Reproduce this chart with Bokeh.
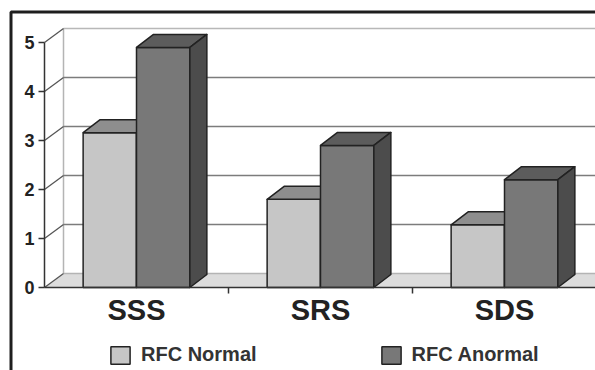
from bokeh.plotting import figure
from bokeh.models import Range1d, FixedTicker, BoxAnnotation, Legend, LegendItem
from bokeh.embed import file_html
from bokeh.resources import INLINE

# ---- data ----
categories = ["SSS", "SRS", "SDS"]
series_names = ["RFC Normal", "RFC Anormal"]
rfc_normal = [3.16, 1.8, 1.28]
rfc_anormal = [4.9, 2.9, 2.2]
y_ticks = [0, 1, 2, 3, 4, 5]

# ---- style / geometry (pixels) ----
W, H = 595, 370
ORIGIN_X, ORIGIN_Y = 44, 287           # pixel position of (0, 0)
PX_CAT, PX_UNIT = 184.0, 49.0
X0, X1 = -ORIGIN_X / PX_CAT, (W - ORIGIN_X) / PX_CAT
Y0, Y1 = -(H - ORIGIN_Y) / PX_UNIT, ORIGIN_Y / PX_UNIT
DX, DY = 19 / PX_CAT, 14 / PX_UNIT          # wall depth
BDX, BDY = 17 / PX_CAT, 13 / PX_UNIT        # bar depth
BAR_W = 0.29
YMAX = y_ticks[-1]
FONT = "Liberation Sans"
OUT = "#222222"

p = figure(width=W, height=H, x_range=Range1d(X0, X1), y_range=Range1d(Y0, Y1),
           output_backend="svg", toolbar_location=None,
           min_border_left=0, min_border_right=0, min_border_top=0, min_border_bottom=0)
p.grid.visible = False
p.outline_line_color = None
p.background_fill_color = "white"
p.border_fill_color = "white"

# side wall + floor
p.patch([0, 0, DX, DX], [0, YMAX, YMAX + DY, DY], fill_color="white", line_color=None)
p.patch([0, X1 + 1, X1 + 1 + DX, DX], [0, 0, DY, DY], fill_color="#dcdcdc", line_color=None)
p.segment(x0=[DX], y0=[DY], x1=[X1 + 1], y1=[DY], line_color="#b4b4b4", line_width=1.5)
p.segment(x0=[DX], y0=[DY], x1=[DX], y1=[YMAX + DY], line_color="#b4b4b4", line_width=1.5)
# gridlines on back wall
inner = [t for t in y_ticks if 0 < t < YMAX]
p.segment(x0=[DX] * len(inner), y0=[t + DY for t in inner], x1=[X1 + 1] * len(inner),
          y1=[t + DY for t in inner], line_color="#7c7c7c", line_width=1.5)
p.segment(x0=[DX], y0=[YMAX + DY], x1=[X1 + 1], y1=[YMAX + DY], line_color="#b8b8b8", line_width=1.5)
# diagonals on side wall
p.segment(x0=[0] * len(y_ticks), y0=y_ticks, x1=[DX] * len(y_ticks), y1=[t + DY for t in y_ticks],
          line_color="#555555", line_width=1.3)

def draw_series(values, offset, front, top, side):
    lefts = [i + 0.5 + offset for i in range(len(values))]
    rights = [l + BAR_W for l in lefts]
    r = p.quad(left=lefts, right=rights, bottom=0, top=values, fill_color=front,
               line_color=OUT, line_width=1.5)
    p.patches(xs=[[l, rr, rr + BDX, l + BDX] for l, rr in zip(lefts, rights)],
              ys=[[v, v, v + BDY, v + BDY] for v in values],
              fill_color=top, line_color=OUT, line_width=1.5, line_join="round")
    p.patches(xs=[[rr, rr + BDX, rr + BDX, rr] for rr in rights],
              ys=[[0, BDY, v + BDY, v] for v in values],
              fill_color=side, line_color=OUT, line_width=1.5, line_join="round")
    return r

r_norm = draw_series(rfc_normal, -BAR_W, "#c6c6c6", "#8e8e8e", "#8a8a8a")
r_anor = draw_series(rfc_anormal, 0.0, "#787878", "#5c5c5c", "#4c4c4c")

# axes (fixed at the data origin)
xa = p.xaxis[0]
xa.fixed_location = 0
xa.bounds = (0, X1)
xa.ticker = FixedTicker(ticks=[i + 0.5 for i in range(len(categories))],
                        minor_ticks=[i for i in range(1, len(categories))])
xa.major_label_overrides = {i + 0.5: c for i, c in enumerate(categories)}
xa.major_tick_line_color = None
xa.major_tick_in = 0
xa.major_tick_out = 6
xa.minor_tick_in = 0
xa.minor_tick_out = 6
xa.minor_tick_line_color = "#333333"
xa.minor_tick_line_width = 1.5
xa.axis_line_color = "#333333"
xa.axis_line_width = 1.5
xa.major_label_text_font = FONT
xa.major_label_text_font_style = "bold"
xa.major_label_text_font_size = "29px"
xa.major_label_text_color = OUT
xa.major_label_standoff = 0

ya = p.yaxis[0]
ya.fixed_location = 0
ya.ticker = FixedTicker(ticks=y_ticks)
ya.bounds = (0, YMAX)
ya.major_tick_in = 0
ya.major_tick_out = 6
ya.major_tick_line_color = "#333333"
ya.major_tick_line_width = 1.5
ya.minor_tick_line_color = None
ya.axis_line_color = "#333333"
ya.axis_line_width = 1.5
ya.major_label_text_font = FONT
ya.major_label_text_font_style = "bold"
ya.major_label_text_font_size = "18px"
ya.major_label_text_color = OUT
ya.major_label_standoff = 4

legend = Legend(items=[LegendItem(label=series_names[0], renderers=[r_norm]),
                       LegendItem(label=series_names[1], renderers=[r_anor])],
                orientation="horizontal", location=(108, 4), spacing=122,
                label_standoff=9, glyph_width=24, glyph_height=22,
                label_text_font=FONT, label_text_font_style="bold",
                label_text_font_size="20px", label_text_color="#333333",
                border_line_color=None, background_fill_alpha=0, padding=0, margin=0)
p.add_layout(legend, "center")

# outer frame (left and top edges of the picture)
p.add_layout(BoxAnnotation(left=10.5, top=11.5, right=2000, bottom=2000,
                           left_units="canvas", right_units="canvas",
                           top_units="canvas", bottom_units="canvas",
                           fill_alpha=0, line_alpha=1, line_color="#1e1e1e", line_width=3))

open("out.html", "w").write(file_html(p, INLINE))
